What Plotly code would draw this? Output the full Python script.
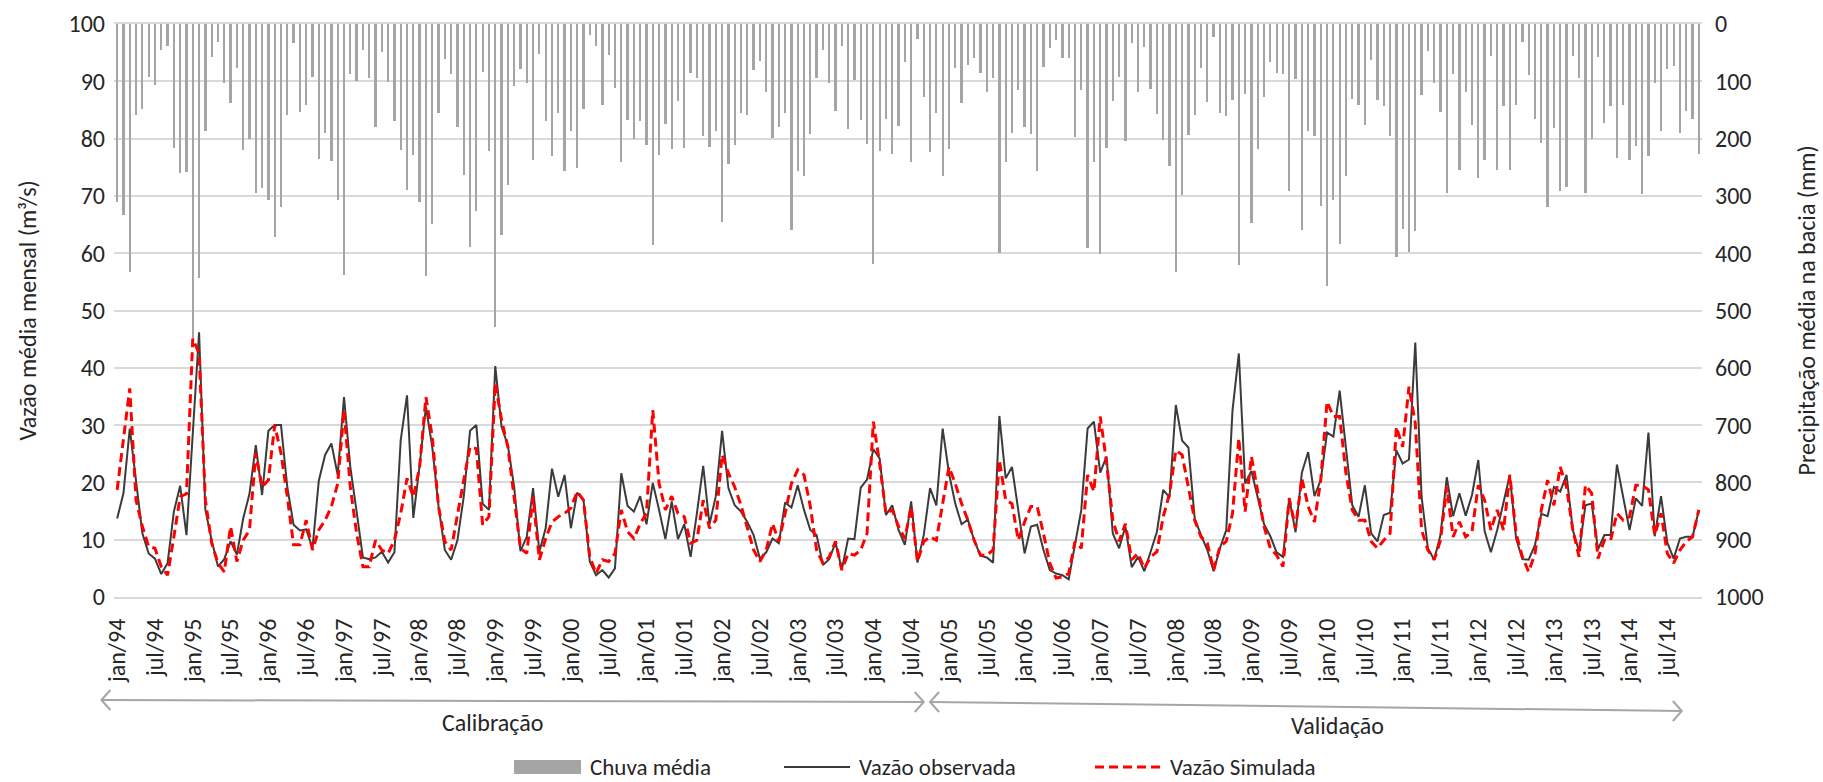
import plotly.graph_objects as go

# ---------------------------------------------------------------- dados
meses = ["jan", "fev", "mar", "abr", "mai", "jun", "jul", "ago", "set", "out", "nov", "dez"]
anos = list(range(1994, 2015))
periodo = [f"{m}/{a % 100:02d}" for a in anos for m in meses]
rotulos_x = periodo[::6]

# precipitação média mensal na bacia (mm)
chuva_media = [
    310, 334, 433, 159, 149, 92, 106, 45, 38, 217, 260, 259,
    548, 444, 187, 58, 31, 103, 138, 76, 220, 201, 295, 287,
    307, 371, 319, 159, 34, 154, 141, 92, 235, 190, 239, 307,
    438, 87, 100, 45, 94, 180, 49, 101, 170, 220, 289, 228,
    310, 439, 349, 156, 61, 87, 180, 263, 389, 326, 84, 221,
    528, 369, 281, 109, 78, 103, 237, 53, 170, 231, 156, 256,
    186, 252, 149, 19, 39, 141, 54, 112, 240, 167, 201, 170,
    211, 385, 228, 175, 218, 135, 216, 85, 94, 195, 215, 187,
    346, 244, 211, 156, 158, 80, 65, 118, 199, 180, 156, 359,
    257, 266, 192, 94, 45, 103, 152, 38, 184, 97, 167, 210,
    419, 221, 166, 226, 178, 67, 241, 26, 128, 224, 156, 266,
    218, 77, 138, 72, 59, 86, 119, 95, 399, 240, 190, 116,
    179, 192, 257, 75, 42, 28, 60, 59, 197, 116, 391, 240,
    401, 217, 134, 92, 205, 33, 119, 41, 113, 157, 202, 247,
    432, 299, 194, 159, 77, 136, 22, 155, 160, 133, 420, 123,
    347, 218, 127, 66, 85, 87, 292, 96, 360, 187, 196, 318,
    458, 307, 384, 266, 131, 141, 177, 63, 133, 143, 195, 406,
    358, 398, 361, 124, 47, 103, 154, 295, 88, 254, 118, 177,
    269, 237, 56, 254, 143, 254, 141, 32, 89, 166, 207, 319,
    181, 291, 285, 55, 94, 295, 201, 57, 173, 143, 234, 141,
    237, 213, 297, 231, 103, 186, 78, 74, 190, 151, 166, 227,
]

# vazão média mensal observada (m³/s)
vazao_observada = [
    13.7, 18.1, 29.4, 19.8, 11.1, 7.6, 6.7, 4.0, 5.9, 14.9, 19.4, 10.8,
    28.5, 46.2, 15.2, 9.9, 5.3, 6.6, 9.7, 7.4, 13.7, 18.0, 26.5, 17.8,
    29.0, 30.0, 30.0, 19.2, 12.6, 11.6, 11.8, 8.5, 20.3, 24.8, 26.8, 21.3,
    34.9, 22.7, 14.9, 6.9, 6.6, 6.9, 7.9, 6.0, 7.8, 27.4, 35.2, 13.8,
    23.0, 33.2, 26.2, 15.8, 8.2, 6.5, 9.9, 17.5, 29.0, 30.0, 16.3, 15.2,
    40.3, 29.7, 26.5, 19.2, 8.0, 10.5, 19.0, 7.9, 12.0, 22.4, 17.5, 21.3,
    12.0, 18.2, 17.0, 6.2, 3.8, 4.7, 3.4, 5.0, 21.6, 15.9, 14.9, 17.6,
    12.7, 19.9, 15.2, 10.1, 16.7, 10.1, 12.7, 7.0, 14.6, 22.9, 12.7, 17.6,
    29.0, 19.0, 16.0, 14.9, 13.1, 10.8, 6.7, 7.8, 10.2, 9.4, 16.5, 15.6,
    19.5, 15.2, 11.7, 10.8, 5.6, 6.6, 9.5, 4.8, 10.2, 10.1, 19.1, 20.5,
    25.8, 24.2, 14.3, 16.0, 11.7, 9.1, 16.7, 6.0, 10.8, 19.0, 16.0, 29.4,
    21.6, 16.3, 12.7, 13.5, 9.9, 7.2, 6.9, 6.0, 31.6, 20.7, 22.7, 15.2,
    7.6, 12.3, 12.6, 8.2, 4.7, 4.1, 3.8, 3.1, 9.4, 15.2, 29.4, 30.6,
    21.7, 24.5, 11.1, 8.5, 12.3, 5.2, 7.0, 4.5, 7.9, 11.4, 18.7, 17.4,
    33.5, 27.3, 26.1, 13.7, 10.8, 8.2, 4.5, 8.5, 11.7, 32.6, 42.5, 19.8,
    22.0, 17.5, 12.7, 10.6, 7.8, 7.0, 17.3, 11.3, 21.7, 25.3, 17.6, 20.4,
    28.7, 28.0, 36.0, 26.0, 16.0, 14.0, 19.5, 11.1, 9.7, 14.3, 14.7, 25.6,
    23.3, 24.0, 44.4, 17.5, 8.5, 6.5, 10.8, 20.9, 14.1, 18.1, 14.2, 17.8,
    23.9, 11.5, 7.8, 11.7, 16.3, 21.3, 10.2, 6.6, 6.5, 9.1, 14.5, 14.1,
    19.2, 18.4, 21.3, 11.7, 7.9, 16.0, 16.3, 8.3, 10.8, 10.8, 23.1, 17.5,
    11.7, 17.2, 15.9, 28.7, 10.6, 17.6, 9.5, 6.7, 10.2, 10.5, 10.5, 15.2,
]

# vazão média mensal simulada pelo modelo (m³/s)
vazao_simulada = [
    18.7, 27.4, 36.4, 16.9, 12.3, 8.8, 8.5, 5.3, 3.8, 10.5, 17.5, 18.0,
    45.1, 42.5, 16.9, 9.4, 5.9, 4.4, 12.3, 6.2, 9.9, 11.7, 25.1, 19.2,
    20.4, 30.0, 25.1, 17.5, 9.1, 9.1, 13.4, 8.2, 11.7, 13.4, 15.8, 19.8,
    32.6, 19.2, 11.1, 5.3, 5.3, 9.9, 8.2, 7.6, 9.9, 14.6, 20.7, 17.5,
    22.7, 34.9, 28.0, 15.8, 9.7, 8.2, 14.6, 20.4, 26.2, 25.9, 12.6, 14.0,
    37.3, 30.9, 26.2, 17.5, 8.5, 7.6, 17.5, 6.5, 10.2, 13.1, 14.0, 14.6,
    15.5, 18.4, 16.9, 7.0, 4.1, 6.5, 6.2, 7.6, 15.2, 11.4, 10.2, 12.8,
    14.6, 32.6, 19.8, 15.2, 17.6, 14.6, 14.0, 9.4, 9.9, 16.9, 12.0, 13.4,
    24.8, 21.6, 19.2, 16.0, 12.3, 8.2, 6.2, 8.2, 12.8, 9.7, 14.6, 19.8,
    22.2, 21.3, 15.8, 8.2, 5.9, 7.0, 9.7, 4.7, 7.6, 7.3, 8.2, 11.1,
    30.6, 23.3, 14.6, 15.2, 12.3, 10.2, 15.8, 6.2, 9.7, 10.5, 9.9, 16.3,
    22.7, 19.8, 16.3, 13.4, 9.9, 7.3, 7.3, 8.2, 23.9, 16.9, 16.3, 9.9,
    13.1, 15.8, 15.8, 11.1, 5.9, 3.3, 3.5, 4.1, 9.7, 8.5, 21.3, 18.4,
    31.5, 23.6, 13.4, 9.7, 12.8, 6.5, 7.6, 5.0, 7.0, 7.9, 14.0, 18.0,
    25.6, 24.8, 19.2, 13.4, 10.5, 9.4, 4.7, 8.8, 9.7, 14.6, 27.7, 14.9,
    24.5, 18.1, 12.3, 8.5, 7.3, 5.3, 17.2, 12.0, 20.7, 15.8, 13.1, 20.4,
    34.1, 31.5, 31.5, 21.6, 15.2, 13.4, 13.4, 9.7, 8.5, 9.9, 11.1, 29.7,
    26.2, 36.7, 30.3, 11.7, 8.2, 6.5, 9.9, 19.2, 10.5, 13.1, 10.5, 11.4,
    19.5, 16.9, 11.7, 15.2, 11.7, 21.3, 11.1, 7.0, 4.4, 7.6, 15.2, 20.4,
    16.0, 22.7, 19.2, 11.7, 7.0, 19.5, 18.1, 6.7, 9.9, 9.9, 14.6, 13.4,
    14.0, 19.5, 19.5, 18.7, 10.8, 14.6, 7.6, 5.9, 8.2, 9.7, 10.5, 15.2,
]

# períodos do modelo (índices de mês onde as setas começam e terminam)
seta_calibracao = (-2.5, 128.0)
seta_validacao = (129.0, 248.3)

# ---------------------------------------------------------------- layout
LARGURA, ALTURA = 1823, 782
M_ESQ, M_DIR, M_TOPO, M_BASE = 114, 121, 24, 185
LARG_PLOT = LARGURA - M_ESQ - M_DIR
ALT_PLOT = ALTURA - M_TOPO - M_BASE
FAIXA_X = (-0.5, len(periodo) - 0.5)

FONTE = "Carlito, Calibri, Lato, sans-serif"
COR_TEXTO = "#262626"
COR_GRADE = "#d9d9d9"
COR_CHUVA = "#a5a5a5"
COR_OBS = "#3b3b3b"
COR_SIM = "#ff0000"
COR_SETA = "#a6a6a6"


def px_x(p):
    return (p - M_ESQ) / LARG_PLOT


def px_y(p):
    return (ALTURA - M_BASE - p) / ALT_PLOT


def mes_x(m):
    return (m - FAIXA_X[0]) / (FAIXA_X[1] - FAIXA_X[0])


fig = go.Figure()

# chuva pendurada no topo (eixo principal, invertido, à direita)
fig.add_trace(go.Bar(
    x=periodo, y=chuva_media, yaxis="y",
    marker=dict(color=COR_CHUVA, line=dict(width=0)),
    width=0.36, name="Chuva média", showlegend=False,
))
# vazões no eixo sobreposto (desenhadas por cima das barras)
fig.add_trace(go.Scatter(
    x=periodo, y=vazao_observada, yaxis="y2", mode="lines",
    line=dict(color=COR_OBS, width=2), name="Vazão observada", showlegend=False,
))
fig.add_trace(go.Scatter(
    x=periodo, y=vazao_simulada, yaxis="y2", mode="lines",
    line=dict(color=COR_SIM, width=3, dash="9px,5px"), name="Vazão Simulada",
    showlegend=False,
))

fig.update_layout(
    width=LARGURA, height=ALTURA,
    margin=dict(l=M_ESQ, r=M_DIR, t=M_TOPO, b=M_BASE, autoexpand=False),
    paper_bgcolor="white", plot_bgcolor="white",
    font=dict(family=FONTE, size=24, color=COR_TEXTO),
    bargap=0,
    xaxis=dict(
        type="category", range=list(FAIXA_X),
        tickmode="array", tickvals=rotulos_x, ticktext=rotulos_x,
        tickangle=-90, ticks="", showgrid=False,
        showline=True, mirror=True, linecolor=COR_GRADE, linewidth=2,
        ticklabelstandoff=10, automargin=False,
        tickfont=dict(size=24, color=COR_TEXTO),
    ),
    yaxis=dict(
        side="right", range=[1000, 0], tickmode="linear", tick0=0, dtick=100,
        showgrid=True, gridcolor=COR_GRADE, gridwidth=2, zeroline=False,
        ticks="", showline=False, automargin=False, ticklabelstandoff=12,
        tickfont=dict(size=24, color=COR_TEXTO),
    ),
    yaxis2=dict(
        overlaying="y", side="left", range=[0, 100], tickmode="linear",
        tick0=0, dtick=10, showgrid=False, zeroline=False, ticks="",
        showline=False, automargin=False, ticklabelstandoff=8,
        tickfont=dict(size=24, color=COR_TEXTO),
    ),
)

anotacoes = [
    dict(text="Vazão média mensal (m³/s)", xref="paper", yref="paper",
         x=0, xshift=27 - M_ESQ, y=0.5, textangle=-90, showarrow=False,
         xanchor="center", yanchor="middle", font=dict(size=24)),
    dict(text="Precipitação média na bacia (mm)", xref="paper", yref="paper",
         x=1, xshift=1806 - (LARGURA - M_DIR), y=0.5, textangle=-90,
         showarrow=False, xanchor="center", yanchor="middle", font=dict(size=24)),
    dict(text="Calibração", xref="paper", yref="paper",
         x=mes_x(59.5), y=px_y(722), showarrow=False,
         xanchor="center", yanchor="middle", font=dict(size=24)),
    dict(text="Validação", xref="paper", yref="paper",
         x=mes_x(193.6), y=px_y(725), showarrow=False,
         xanchor="center", yanchor="middle", font=dict(size=24)),
]

formas = []


def seta_dupla(m0, m1, y0, y1):
    xa, xb = mes_x(m0), mes_x(m1)
    ya, yb = px_y(y0), px_y(y1)
    formas.append(dict(type="line", xref="paper", yref="paper",
                       x0=xa, x1=xb, y0=ya, y1=yb,
                       line=dict(color=COR_SETA, width=2)))
    for xp, yp, sinal in ((xa, ya, 1), (xb, yb, -1)):
        formas.append(dict(
            type="path", xref="paper", yref="paper",
            xsizemode="pixel", ysizemode="pixel", xanchor=xp, yanchor=yp,
            path=f"M {9 * sinal},10 L 0,0 L {9 * sinal},-10",
            line=dict(color=COR_SETA, width=2),
        ))


seta_dupla(*seta_calibracao, 700, 702)
seta_dupla(*seta_validacao, 702, 711)

# legenda
y_leg = px_y(767)
formas.append(dict(type="rect", xref="paper", yref="paper",
                   x0=px_x(514), x1=px_x(581), y0=px_y(760), y1=px_y(774),
                   fillcolor=COR_CHUVA, line=dict(width=0)))
formas.append(dict(type="line", xref="paper", yref="paper",
                   x0=px_x(784), x1=px_x(850), y0=y_leg, y1=y_leg,
                   line=dict(color=COR_OBS, width=2)))
formas.append(dict(type="line", xref="paper", yref="paper",
                   x0=px_x(1095), x1=px_x(1163), y0=y_leg, y1=y_leg,
                   line=dict(color=COR_SIM, width=3, dash="9px,5px")))
for texto, xpix in (("Chuva média", 589), ("Vazão observada", 858),
                    ("Vazão Simulada", 1169)):
    anotacoes.append(dict(text=texto, xref="paper", yref="paper",
                          x=px_x(xpix), y=y_leg, showarrow=False,
                          xanchor="left", yanchor="middle", borderpad=0,
                          font=dict(size=23)))

fig.update_layout(annotations=anotacoes, shapes=formas)

fig.write_html("out.html")
